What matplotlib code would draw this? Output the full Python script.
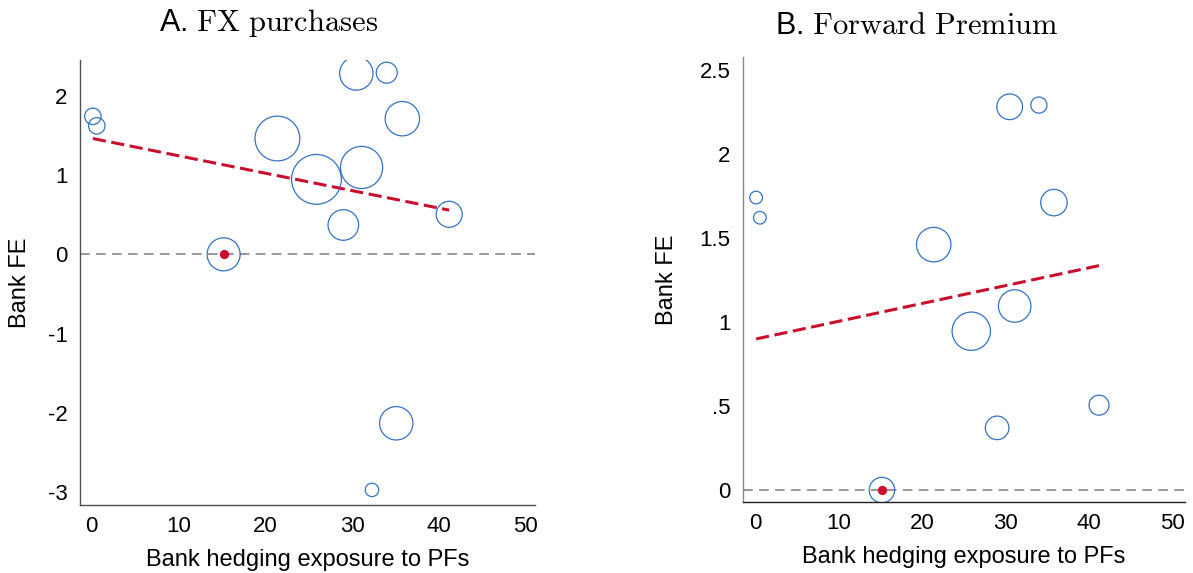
import matplotlib
matplotlib.use('Agg')
import matplotlib.pyplot as plt

plt.rcParams['font.family'] = ['Liberation Sans', 'DejaVu Sans']
plt.rcParams['mathtext.fontset'] = 'cm'
plt.rcParams['lines.scale_dashes'] = False

# bank-level data: hedging exposure, bank fixed effect, regression weight
hedging = [0.13, 0.58, 21.4, 25.9, 31.1, 30.5, 34.0, 35.8, 41.2, 29.0, 15.2, 35.1, 32.3]
bank_fe = [1.74, 1.62, 1.46, 0.945, 1.095, 2.28, 2.29, 1.71, 0.505, 0.37, 0.0, -2.13, -2.97]
weights = [10.8, 10.8, 80.3, 99.2, 71.2, 44.6, 17.6, 47.3, 27.0, 37.5, 43.6, 44.6, 7.2]
ref_bank = 10  # omitted bank (FE normalised to 0)

# fitted lines (endpoints at min / max exposure)
fit_x = [0.13, 41.2]
fit_fx = [1.46, 0.557]
fit_fp = [0.899, 1.335]

yticks_a = [-3, -2, -1, 0, 1, 2]
ylabels_a = ['-3', '-2', '-1', '0', '1', '2']
yticks_b = [0, 0.5, 1, 1.5, 2, 2.5]
ylabels_b = ['0', '.5', '1', '1.5', '2', '2.5']
xticks = [0, 10, 20, 30, 40, 50]

blue = '#3572c0'
red = '#c8102e'

fig = plt.figure(figsize=(11.93, 5.73), dpi=100)
ax1 = fig.add_axes([0.0671, 0.1187, 0.3814, 0.7766])
ax2 = fig.add_axes([0.6228, 0.1239, 0.3705, 0.7766])

panels = [
    (ax1, fit_fx, 12.96, (-3.16, 2.45), (-1.35, 51.1), yticks_a, ylabels_a, '#505050', '#505050'),
    (ax2, fit_fp, 7.68, (-0.071, 2.576), (-1.44, 51.5), yticks_b, ylabels_b, '#8a8a8a', '#202020'),
]

for ax, fit, k, ylim, xlim, yt, yl, lcol, bcol in panels:
    ax.axhline(0, color='#7a7a7a', lw=1.1, dashes=(7, 4.5), zorder=1)
    ax.scatter(hedging, bank_fe, s=[k * w for w in weights], facecolors='none',
               edgecolors=blue, linewidths=0.9, zorder=2)
    ax.plot(fit_x, fit, color=red, lw=2.2, dashes=(9.5, 4), zorder=3)
    ax.plot(hedging[ref_bank], bank_fe[ref_bank], 'o', color=red, ms=6.7, mec='none', zorder=4)
    ax.set_xlim(*xlim)
    ax.set_ylim(*ylim)
    ax.set_xticks(xticks)
    ax.set_xticklabels([str(t) for t in xticks])
    ax.set_yticks(yt)
    ax.set_yticklabels(yl)
    ax.tick_params(length=0, labelsize=16)
    ax.tick_params(axis='y', pad=9)
    ax.tick_params(axis='x', pad=8)
    for s in ['top', 'right']:
        ax.spines[s].set_visible(False)
    ax.spines['left'].set_color(lcol)
    ax.spines['bottom'].set_color(bcol)
    ax.spines['left'].set_linewidth(1.0)
    ax.spines['bottom'].set_linewidth(1.0)
    ax.set_xlabel('Bank hedging exposure to PFs', fontsize=17)
    ax.xaxis.label.set_verticalalignment('baseline')
    ax.xaxis.set_label_coords(0.5, -0.137)
    ax.set_ylabel('Bank FE', fontsize=17)
    ax.yaxis.label.set_verticalalignment('center')

ax1.yaxis.set_label_coords((19.5 - 80) / 455, 0.5)
ax2.yaxis.set_label_coords((667 - 743) / 442, 0.5)

fig.text(269 / 1193, 1 - 31 / 573, r'A. $\mathrm{FX\ purchases}$', fontsize=22,
         ha='center', va='baseline')
fig.text(917 / 1193, 1 - 34 / 573, r'B. $\mathrm{Forward\ Premium}$', fontsize=22,
         ha='center', va='baseline')

fig.savefig('out.png', dpi=100)
